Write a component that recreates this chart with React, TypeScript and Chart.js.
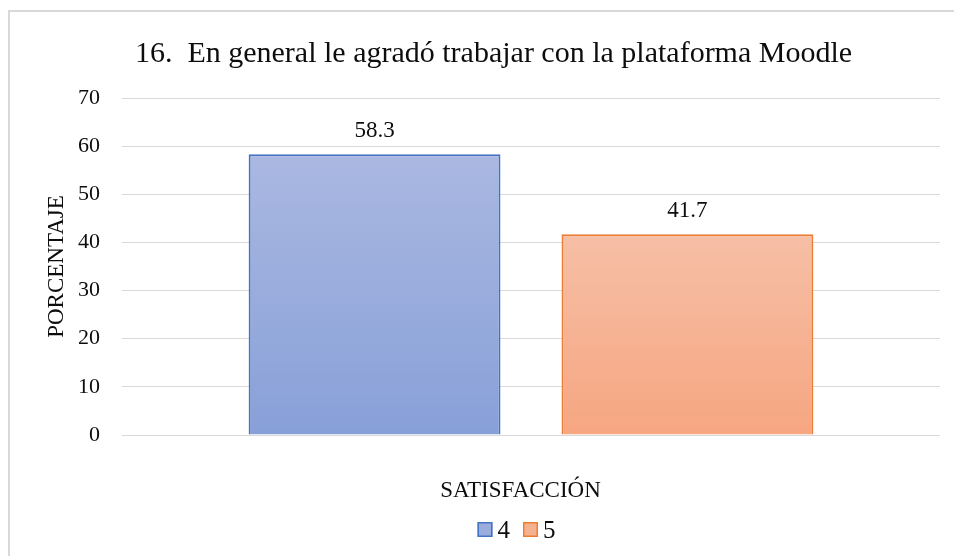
import React, { useEffect, useRef } from "react";
import { Chart, registerables } from "chart.js";

Chart.register(...registerables);

const chartTitle = "16.  En general le agradó trabajar con la plataforma Moodle";
const xAxisTitle = "SATISFACCIÓN";
const yAxisTitle = "PORCENTAJE";
const categories = ["SATISFACCIÓN"];
const seriesNames = ["4", "5"];
const seriesValues = [58.3, 41.7];
const yTicks = [0, 10, 20, 30, 40, 50, 60, 70];

const FONT = "'Liberation Serif', 'Times New Roman', serif";
const TEXT = "#0d0d0d";
const gradTop = ["#aab8e1", "#f6bfa6"];
const gradBottom = ["#88a0d8", "#f6a681"];
const borders = ["#4472c4", "#ed7d31"];
const legendFill = ["#9aaddd", "#f5b293"];

const overlayPlugin = {
  id: "overlayText",
  afterDatasetsDraw(chart: any) {
    const ctx = chart.ctx;
    ctx.save();
    // data labels
    ctx.fillStyle = TEXT;
    ctx.font = `23px ${FONT}`;
    ctx.textAlign = "center";
    ctx.textBaseline = "alphabetic";
    chart.data.datasets.forEach((ds: any, i: number) => {
      const meta = chart.getDatasetMeta(i);
      meta.data.forEach((el: any, j: number) => {
        const v = ds.data[j] as number;
        ctx.fillText(v.toFixed(1), el.x, el.y - 17);
      });
    });
    // title
    ctx.font = `30px ${FONT}`;
    ctx.fillText(chartTitle, 483.5, 49.5);
    // x axis title
    ctx.font = `23px ${FONT}`;
    ctx.fillText(xAxisTitle, 510.5, 485);
    // legend
    ctx.font = `25px ${FONT}`;
    ctx.textAlign = "left";
    const box = 15;
    const gap = 5;
    const itemGap = 13;
    const widths = seriesNames.map((n) => box + gap + ctx.measureText(n).width);
    const total = widths.reduce((a, b) => a + b, 0) + itemGap * (seriesNames.length - 1);
    let x = 506.5 - total / 2;
    const boxTop = 510;
    seriesNames.forEach((n, i) => {
      ctx.fillStyle = legendFill[i];
      ctx.fillRect(x, boxTop, box, box);
      ctx.strokeStyle = borders[i];
      ctx.lineWidth = 1.5;
      ctx.strokeRect(x + 0.75, boxTop + 0.75, box - 1.5, box - 1.5);
      ctx.fillStyle = TEXT;
      ctx.fillText(n, x + box + gap, 526);
      x += widths[i] + itemGap;
    });
    ctx.restore();
  },
};

export default function App() {
  const ref = useRef<HTMLCanvasElement | null>(null);
  useEffect(() => {
    if (!ref.current) return;
    const chart = new Chart(ref.current, {
      type: "bar",
      data: {
        labels: categories,
        datasets: seriesNames.map((name, i) => ({
          label: name,
          data: [seriesValues[i]],
          backgroundColor: (c: any) => {
            const ch = c.chart;
            if (!ch.chartArea || c.type !== "data") return legendFill[i];
            const top = ch.scales.y.getPixelForValue(c.raw as number);
            const bottom = ch.scales.y.getPixelForValue(0);
            const g = ch.ctx.createLinearGradient(0, top, 0, bottom);
            g.addColorStop(0, gradTop[i]);
            g.addColorStop(1, gradBottom[i]);
            return g;
          },
          borderColor: borders[i],
          borderWidth: 2,
          categoryPercentage: 0.765,
          barPercentage: 0.805,
        })),
      },
      options: {
        responsive: false,
        animation: false,
        layout: { padding: { top: 86, right: 14, bottom: 121, left: 0 } },
        plugins: {
          legend: { display: false },
          title: { display: false },
          tooltip: { enabled: false },
        },
        scales: {
          x: {
            display: false,
            grid: { display: false },
            ticks: { display: false },
          },
          y: {
            min: 0,
            max: 70,
            afterBuildTicks: (s: any) => {
              s.ticks = yTicks.map((v) => ({ value: v }));
            },
            afterFit: (s: any) => {
              s.width = 112;
            },
            grid: { color: "#d9d9d9", lineWidth: 1, drawTicks: false },
            border: { display: false },
            ticks: {
              padding: 22,
              color: TEXT,
              font: { family: FONT, size: 22 },
            },
            title: {
              display: true,
              text: yAxisTitle,
              color: TEXT,
              font: { family: FONT, size: 23 },
              padding: { top: 33, bottom: 0 },
            },
          },
        },
      },
      plugins: [overlayPlugin],
    });
    return () => chart.destroy();
  }, []);
  return (
    <div
      style={{
        position: "absolute",
        left: 8,
        top: 10,
        width: 946,
        height: 546,
        boxSizing: "border-box",
        borderTop: "2px solid #d9d9d9",
        borderLeft: "2px solid #d9d9d9",
        overflow: "hidden",
        background: "#fff",
      }}
    >
      <canvas ref={ref} width={944} height={544} style={{ display: "block" }} />
    </div>
  );
}
